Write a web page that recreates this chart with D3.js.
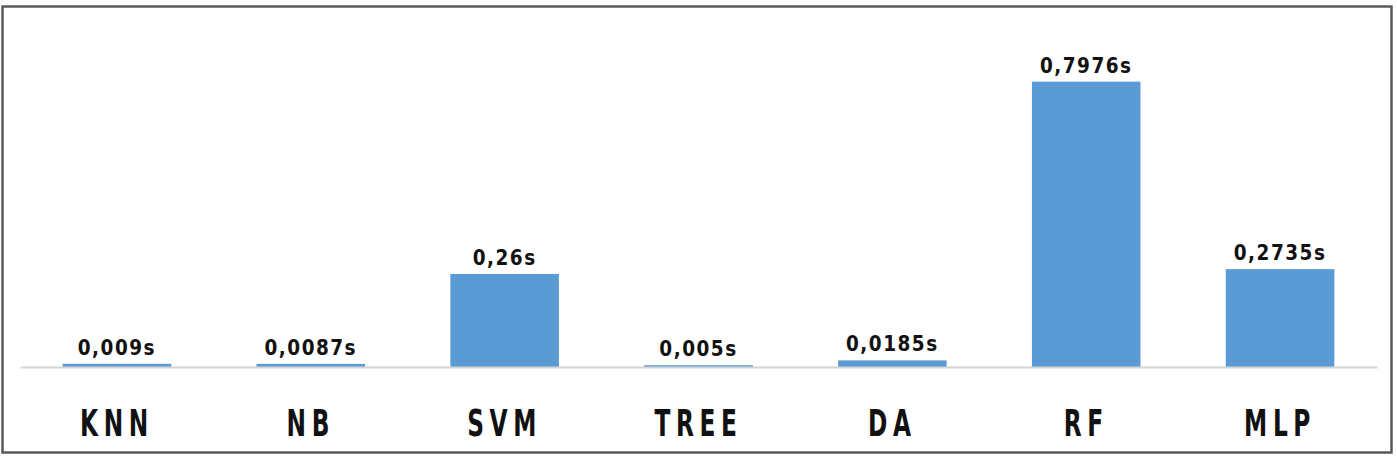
<!DOCTYPE html>
<html>
<head>
<meta charset="utf-8">
<script src="https://cdn.jsdelivr.net/npm/d3@7"></script>
<style>
  body { margin: 0; background: #fff; }
  .valLabel { font-family: 'DejaVu Sans Condensed', 'DejaVu Sans', sans-serif; font-stretch: condensed; font-weight: bold; font-size: 20.5px; letter-spacing: 1.5px; fill: #111; }
  .catLabel { font-family: 'DejaVu Sans Condensed', 'DejaVu Sans', sans-serif; font-stretch: condensed; font-weight: bold; font-size: 37px; letter-spacing: 8px; fill: #111; }
</style>
</head>
<body>
<svg id="chart"></svg>
<script>
const categories = ['KNN', 'NB', 'SVM', 'TREE', 'DA', 'RF', 'MLP'];
const times = [0.009, 0.0087, 0.26, 0.005, 0.0185, 0.7976, 0.2735];

const width = 1397, height = 456;
const svg = d3.select('#chart').attr('width', width).attr('height', height);

// outer frame
svg.append('rect')
    .attr('x', 2.5).attr('y', 6.5)
    .attr('width', 1389).attr('height', 446)
    .attr('fill', 'none')
    .attr('stroke', '#5a5a5a')
    .attr('stroke-width', 2.5);

const xScale = d3.scaleBand()
    .domain(categories)
    .range([20, 1377])
    .paddingInner(0.44)
    .paddingOuter(0.22);

const yScale = d3.scaleLinear()
    .domain([0, 0.9])
    .range([367, 45]);

const bars = svg.append('g').selectAll('rect').data(categories);
bars.enter().append('rect')
    .attr('x', d => xScale(d))
    .attr('y', (d, i) => yScale(times[i]))
    .attr('width', xScale.bandwidth())
    .attr('height', (d, i) => yScale(0) - yScale(times[i]))
    .attr('fill', '#5b9bd5');

// baseline axis
const xAxis = d3.axisBottom(xScale).tickSize(0).tickPadding(43);
const axisG = svg.append('g')
    .attr('transform', 'translate(0,' + yScale(0) + ')')
    .call(xAxis);
axisG.attr('font-size', null).attr('font-family', null);
axisG.select('.domain').attr('stroke', '#d4d4d4').attr('stroke-width', 2);
// narrow, tall letters like the original
axisG.selectAll('text')
    .attr('class', 'catLabel')
    .attr('dy', '0.7em')
    .attr('fill', null)
    .attr('transform', 'scale(0.7,1)');

svg.append('g').selectAll('text').data(categories)
    .enter().append('text')
    .attr('class', 'valLabel')
    .attr('text-anchor', 'middle')
    .attr('x', d => xScale(d) + xScale.bandwidth() / 2)
    .attr('y', (d, i) => yScale(times[i]) - 9)
    .text((d, i) => String(times[i]).replace('.', ',') + 's');
</script>
</body>
</html>
